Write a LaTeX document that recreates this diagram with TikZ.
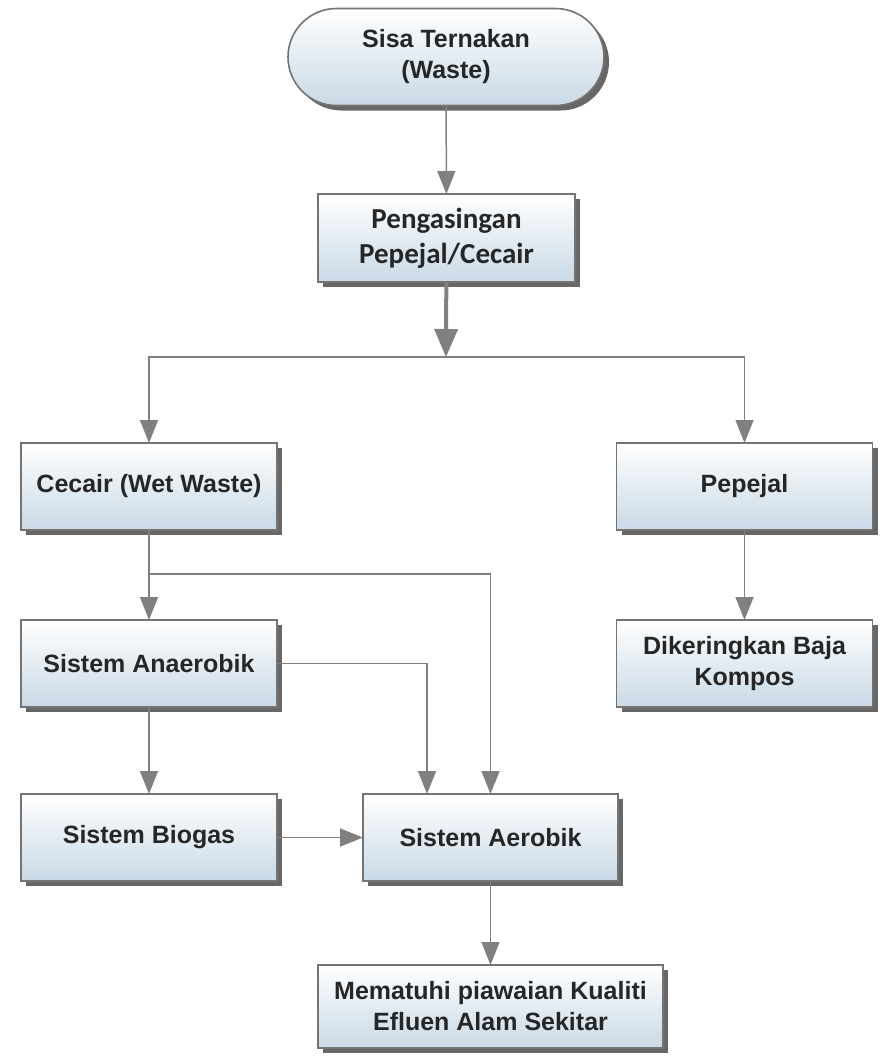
\documentclass[tikz,border=0pt]{standalone}
\usepackage{fontspec}
\setmainfont{Liberation Sans}
\newfontfamily\calfont{Carlito}
\usetikzlibrary{
  arrows.meta,
  shadows,
  shapes.misc
}
\definecolor{boxblue}{HTML}{C9D9E6}
\definecolor{boxline}{HTML}{747474}
\definecolor{flowgray}{HTML}{808080}
\definecolor{txt}{HTML}{262626}
\tikzset{
  proc/.style = {rectangle, draw=boxline, line width=1.6pt,
      top color=white, middle color=boxblue!35, bottom color=boxblue,
      minimum width=#1, minimum height=87pt,
      inner sep=0pt, outer sep=0pt, align=center,
      text=txt, font=\fontsize{25}{31}\selectfont\bfseries,
      drop shadow={shadow xshift=5pt, shadow yshift=-5pt,
        fill=black!70, opacity=.85}},
  proc/.default = 256pt, % box width
  term/.style = {proc=316pt, rounded rectangle, minimum height=97pt},
  flow/.style = {draw=flowgray, line width=1.5pt,
      -{Triangle[length=23pt, width=18pt, fill=flowgray]}},
  bigflow/.style = {flow, line width=4pt,
      -{Triangle[length=28pt, width=23pt, fill=flowgray]}},
  guide/.style = {draw=flowgray, line width=1.5pt},
}

\begin{document}
\begin{tikzpicture}[x=1pt, y=-1pt]
  \useasboundingbox (0,0) rectangle (881,1058);

  \node[term] (waste) at (446,57) {Sisa Ternakan\\(Waste)};
  \node[proc=257pt, minimum height=88pt,
    font=\fontsize{29}{35}\selectfont\calfont\bfseries] (sep) at (446.5,238)
    {Pengasingan\\Pepejal/Cecair};
  \node[proc] (wet) at (149,486.5) {Cecair (Wet Waste)};
  \node[proc] (solid) at (744.5,486.5) {Pepejal};
  \node[proc] (anaer) at (149,663.5) {Sistem Anaerobik};
  \node[proc] (dry) at (744.5,663.5) {Dikeringkan Baja\\Kompos};
  \node[proc] (biogas) at (149,837.5) {Sistem Biogas};
  \node[proc=255pt] (aerob) at (490.5,837.5) {Sistem Aerobik};
  \node[proc=345pt, minimum height=83pt] (efluen) at (490.5,1006.5)
    {Mematuhi piawaian Kualiti\\Efluen Alam Sekitar};

  \coordinate (split) at (446,357);
  \coordinate (wetbr) at (149,574);
  \coordinate (anin) at (427,794);

  \draw[flow] (waste) -- (sep);
  \draw[bigflow] (sep) -- (split);
  \draw[guide] (wet.center |- split) -- (solid.center |- split);
  \draw[flow] (split) -| (wet);
  \draw[flow] (split) -| (solid);

  \draw[flow] (wet) -- (anaer);
  \draw[flow] (wetbr) -| (aerob.north);
  \draw[flow] (anaer.east) -| (anin);
  \draw[flow] (anaer) -- (biogas);
  \draw[flow] (biogas) -- (aerob);
  \draw[flow] (solid) -- (dry);
  \draw[flow] (aerob) -- (efluen);
\end{tikzpicture}
\end{document}
